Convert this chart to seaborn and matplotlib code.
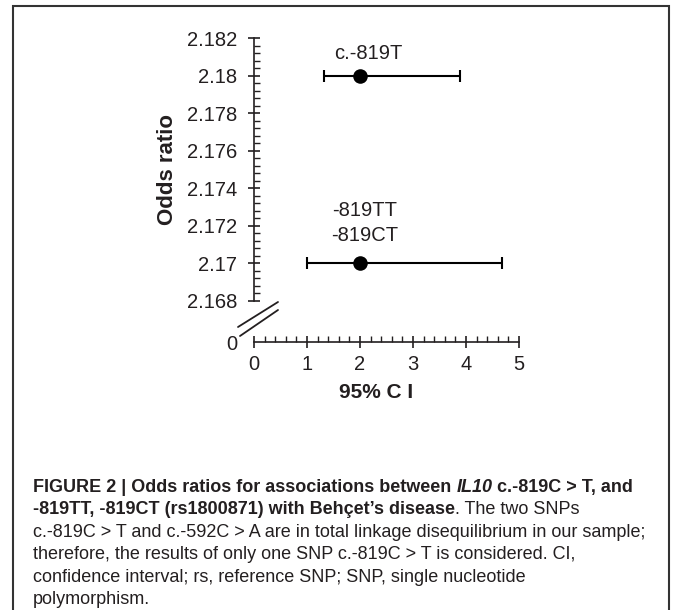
import matplotlib
matplotlib.use("Agg")
import matplotlib.pyplot as plt
import seaborn as sns
import numpy as np
import pandas as pd
from matplotlib.lines import Line2D
from matplotlib.patches import Rectangle
from matplotlib.ticker import MultipleLocator

# ---------------- data ----------------
labels = ["c.-819T", "-819TT\n-819CT"]
odds_ratio = [2.18, 2.17]
point_x = [2.0, 2.0]
ci_low = [1.32, 1.0]
ci_high = [3.89, 4.68]
y_ticks = [2.168, 2.170, 2.172, 2.174, 2.176, 2.178, 2.180, 2.182]
y_tick_labels = ["2.168", "2.17", "2.172", "2.174", "2.176", "2.178", "2.18", "2.182"]
x_ticks = [0, 1, 2, 3, 4, 5]
x_tick_labels = ["0", "1", "2", "3", "4", "5"]

df = pd.DataFrame({"label": labels, "OR": odds_ratio, "x": point_x,
                   "lo": ci_low, "hi": ci_high})

sns.set_theme(style="white")
plt.rcParams["font.family"] = ["Liberation Sans", "DejaVu Sans"]

W, H = 673, 610
fig = plt.figure(figsize=(W / 100, H / 100), dpi=100)
TXT = "#231f20"

def fx(px):
    return px / W

def fy(py):
    return 1 - py / H

# axes geometry (pixels)
x0, x5 = 254, 519
y_top, y_bot = 38, 301
y_xaxis = 342

ax = fig.add_axes([fx(x0), fy(y_bot), fx(x5) - fx(x0), fy(y_top) - fy(y_bot)])
axb = fig.add_axes([fx(x0), fy(y_xaxis), fx(x5) - fx(x0), 0.02], sharex=ax)
for a in (ax, axb):
    a.set_facecolor("none")

# error bars + points
ax.errorbar(df["x"], df["OR"],
            xerr=[df["x"] - df["lo"], df["hi"] - df["x"]],
            fmt="none", ecolor="black", elinewidth=1.5, capsize=4.5, capthick=1.5)
sns.scatterplot(data=df, x="x", y="OR", ax=ax, color="black", s=110,
                edgecolor="black", linewidth=0, zorder=5, legend=False)

ax.set_xlim(0, 5)
ax.set_ylim(2.168, 2.182)

# top axis styling
for s in ("top", "right", "bottom"):
    ax.spines[s].set_visible(False)
ax.spines["left"].set_color(TXT)
ax.spines["left"].set_linewidth(1.2)
ax.set_yticks(y_ticks)
ax.set_yticklabels(y_tick_labels)
ax.yaxis.set_minor_locator(MultipleLocator(0.0004))
ax.tick_params(axis="y", which="major", direction="inout", length=8, width=1.2,
               color=TXT, labelsize=14.5, labelcolor=TXT, pad=8, left=True)
ax.tick_params(axis="y", which="minor", direction="in", length=4, width=1.0,
               color=TXT, left=True)
ax.tick_params(axis="x", which="both", bottom=False, labelbottom=False)
ax.set_xlabel("")
ax.set_ylabel("Odds ratio", fontsize=16, fontweight="bold", color=TXT)
ax.yaxis.set_label_coords(-0.285, 0.5)

# annotations
ax.text(2.15, 2.1812, labels[0], ha="center", va="center", fontsize=14.5, color=TXT)
ax.text(2.09, 2.1728, "-819TT", ha="center", va="center", fontsize=14.5, color=TXT)
ax.text(2.09, 2.1715, "-819CT", ha="center", va="center", fontsize=14.5, color=TXT)

# bottom (x) axis
axb.set_ylim(0, 1)
for s in ("top", "right", "left"):
    axb.spines[s].set_visible(False)
axb.spines["bottom"].set_color(TXT)
axb.spines["bottom"].set_linewidth(1.2)
axb.set_xticks(x_ticks)
axb.set_xticklabels(x_tick_labels)
axb.xaxis.set_minor_locator(MultipleLocator(0.2))
axb.tick_params(axis="x", which="major", direction="inout", length=9, width=1.2,
                color=TXT, labelsize=14.5, labelcolor=TXT, pad=5, bottom=True)
axb.tick_params(axis="x", which="minor", direction="in", length=4, width=1.0,
                color=TXT, bottom=True)
axb.set_yticks([0])
axb.set_yticklabels(["0"])
axb.tick_params(axis="y", which="major", length=0, labelsize=14.5, labelcolor=TXT, pad=12)
axb.set_xlabel("95% C I", fontsize=15, fontweight="bold", color=TXT, labelpad=8)
axb.xaxis.set_label_coords(0.46, -3.4)
axb.set_ylabel("")

# axis break marks
for (xa, ya, xb, yb) in [(238, 327, 278, 302), (240, 336, 278, 310)]:
    fig.add_artist(Line2D([fx(xa), fx(xb)], [fy(ya), fy(yb)], color=TXT, lw=1.3,
                          transform=fig.transFigure))

# figure border
fig.add_artist(Rectangle((fx(13), fy(640)), fx(669) - fx(13), fy(6) - fy(640),
                         transform=fig.transFigure, fill=False, edgecolor="#333333",
                         lw=1.5, clip_on=False))

# caption with mixed styles
cap_family = ["Liberation Sans Narrow", "Liberation Sans", "DejaVu Sans"]
cap_size = 13
fig.canvas.draw()
renderer = fig.canvas.get_renderer()

def text_width(s, weight, style):
    t = fig.text(0, 0, s, fontsize=cap_size, family=cap_family, weight=weight, style=style)
    w = t.get_window_extent(renderer).width
    t.remove()
    return w

def draw_runs(x_px, y_px, runs):
    x = x_px
    for s, weight, style in runs:
        lead = len(s) - len(s.lstrip(" "))
        trail = len(s) - len(s.rstrip(" "))
        core = s.strip(" ")
        sp = text_width("a a", weight, style) - text_width("aa", weight, style)
        x += lead * sp
        fig.text(fx(x), fy(y_px), core, fontsize=cap_size, family=cap_family,
                 weight=weight, style=style, color="#231f20", va="baseline", ha="left")
        x += text_width(core, weight, style) + trail * sp

B, R = "bold", "normal"
N, I = "normal", "italic"
cap_lines = [
    [("FIGURE 2 | Odds ratios for associations between ", B, N), ("IL10", B, I),
     (" c.-819C > T, and", B, N)],
    [("-819TT, -819CT (rs1800871) with Behçet\u2019s disease", B, N),
     (". The two SNPs", R, N)],
    [("c.-819C > T and c.-592C > A are in total linkage disequilibrium in our sample;", R, N)],
    [("therefore, the results of only one SNP c.-819C > T is considered. CI,", R, N)],
    [("confidence interval; rs, reference SNP; SNP, single nucleotide", R, N)],
    [("polymorphism.", R, N)],
]
base0 = 492
for i, runs in enumerate(cap_lines):
    draw_runs(33, base0 + i * 22.4, runs)

fig.savefig("out.png", dpi=100)
